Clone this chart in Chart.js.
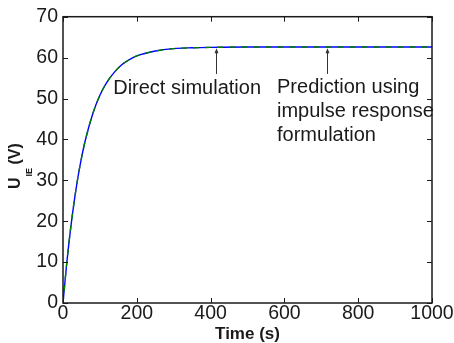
<!DOCTYPE html>
<html>
<head>
<meta charset="utf-8">
<script src="https://cdn.jsdelivr.net/npm/chart.js@4/dist/chart.umd.min.js"></script>
<style>
  html, body { margin: 0; padding: 0; background: #fff; }
  #wrap { width: 454px; height: 343px; }
</style>
</head>
<body>
<div id="wrap"><canvas id="uieChart" width="454" height="343"></canvas></div>
<script>
// valeurs
const timeS = [0, 10, 20, 30, 40, 50, 60, 80, 100, 120, 140, 160, 180, 200, 250, 300, 350, 400, 500, 600, 700, 800, 900, 1000];
const directSim = [0, 9.6, 17.7, 24.6, 30.5, 35.4, 39.6, 46.1, 50.8, 54.1, 56.5, 58.3, 59.5, 60.4, 61.6, 62.2, 62.4, 62.5, 62.6, 62.6, 62.6, 62.6, 62.6, 62.6];
const impulsePred = [0, 9.6, 17.7, 24.6, 30.5, 35.4, 39.6, 46.1, 50.8, 54.1, 56.5, 58.3, 59.5, 60.4, 61.6, 62.2, 62.4, 62.5, 62.6, 62.6, 62.6, 62.6, 62.6, 62.6];
const xTicks = [0, 200, 400, 600, 800, 1000];
const yTicks = [0, 10, 20, 30, 40, 50, 60, 70];

// annotations (en unités des données)
const arrowX = [414, 715];
const arrowFrom = [56.0, 56.0];
const arrowTo = [62.3, 62.3];
const noteText = ['Direct simulation', 'Prediction using', 'impulse response', 'formulation'];
const noteX = [136, 580, 580, 580];
const noteY = [51.0, 51.3, 45.5, 39.6];

const FONT = '"Liberation Sans", Arial, Helvetica, sans-serif';
const INK = '#1a1a1a';

function pairs(xs, ys) {
  return xs.map((x, i) => ({ x: x, y: ys[i] }));
}

const boxPlugin = {
  id: 'matlabBox',
  afterDatasetsDraw(chart) {
    const { ctx, chartArea: a, scales } = chart;
    ctx.save();
    ctx.strokeStyle = INK;
    ctx.lineWidth = 1;
    ctx.beginPath();
    xTicks.forEach(v => {
      const px = Math.round(scales.x.getPixelForValue(v)) + 0.5;
      ctx.moveTo(px, a.bottom); ctx.lineTo(px, a.bottom - 5);
      ctx.moveTo(px, a.top); ctx.lineTo(px, a.top + 5);
    });
    yTicks.forEach(v => {
      const py = Math.round(scales.y.getPixelForValue(v)) + 0.5;
      ctx.moveTo(a.left, py); ctx.lineTo(a.left + 5, py);
      ctx.moveTo(a.right, py); ctx.lineTo(a.right - 5, py);
    });
    ctx.stroke();
    ctx.lineWidth = 1.5;
    ctx.strokeRect(a.left, a.top, a.right - a.left, a.bottom - a.top);

    // flèches
    ctx.strokeStyle = '#333';
    ctx.fillStyle = '#333';
    ctx.lineWidth = 1;
    arrowX.forEach((xv, i) => {
      const px = Math.round(scales.x.getPixelForValue(xv)) + 0.5;
      const y0 = scales.y.getPixelForValue(arrowFrom[i]);
      const y1 = scales.y.getPixelForValue(arrowTo[i]);
      ctx.beginPath();
      ctx.moveTo(px, y0); ctx.lineTo(px, y1 + 3);
      ctx.stroke();
      ctx.beginPath();
      ctx.moveTo(px, y1);
      ctx.lineTo(px - 2, y1 + 5);
      ctx.lineTo(px + 2, y1 + 5);
      ctx.closePath();
      ctx.fill();
    });

    // textes
    ctx.fillStyle = INK;
    ctx.font = '20px ' + FONT;
    ctx.textBaseline = 'alphabetic';
    ctx.textAlign = 'left';
    noteText.forEach((t, i) => {
      ctx.fillText(t, scales.x.getPixelForValue(noteX[i]), scales.y.getPixelForValue(noteY[i]));
    });

    // titre de l'axe Y avec indice
    ctx.translate(20, 189);
    ctx.rotate(-Math.PI / 2);
    ctx.font = 'bold 16px ' + FONT;
    ctx.fillText('U', 0, 0);
    let w = ctx.measureText('U').width;
    ctx.font = 'bold 9px ' + FONT;
    ctx.fillText('IE', w + 1, 12);
    w += ctx.measureText('IE').width;
    ctx.font = 'bold 16px ' + FONT;
    ctx.fillText(' (V)', w, 0);
    ctx.restore();
  }
};

new Chart(document.getElementById('uieChart'), {
  type: 'line',
  data: {
    datasets: [
      {
        label: 'Direct simulation',
        data: pairs(timeS, directSim),
        borderColor: 'rgb(0, 0, 255)',
        borderWidth: 1.4,
        pointRadius: 0,
        fill: false,
        cubicInterpolationMode: 'monotone',
        order: 2
      },
      {
        label: 'Prediction using impulse response formulation',
        data: pairs(timeS, impulsePred),
        borderColor: 'rgb(0, 128, 0)',
        borderWidth: 1.4,
        borderDash: [6, 6],
        pointRadius: 0,
        fill: false,
        cubicInterpolationMode: 'monotone',
        order: 1
      }
    ]
  },
  options: {
    responsive: false,
    animation: false,
    devicePixelRatio: 1,
    layout: { padding: { left: 0, top: 15, right: 22, bottom: 0 } },
    plugins: { legend: { display: false }, tooltip: { enabled: false } },
    scales: {
      x: {
        type: 'linear',
        min: 0,
        max: 1000,
        afterBuildTicks: s => { s.ticks = xTicks.map(v => ({ value: v })); },
        afterFit: s => { s.height = 40; },
        grid: { display: false, drawTicks: false },
        border: { display: false },
        ticks: { color: INK, font: { family: FONT, size: 19.5 }, padding: -1, maxRotation: 0, callback: v => String(v) },
        title: { display: true, text: 'Time (s)', color: INK, font: { family: FONT, size: 17, weight: 'bold', lineHeight: 1 }, padding: 0 }
      },
      y: {
        min: 0,
        max: 70,
        afterBuildTicks: s => { s.ticks = yTicks.map(v => ({ value: v })); },
        afterFit: s => { s.width = 63; },
        grid: { display: false, drawTicks: false },
        border: { display: false },
        ticks: { color: INK, font: { family: FONT, size: 19.5 }, padding: 5, callback: v => String(v) }
      }
    }
  },
  plugins: [boxPlugin]
});
</script>
</body>
</html>
